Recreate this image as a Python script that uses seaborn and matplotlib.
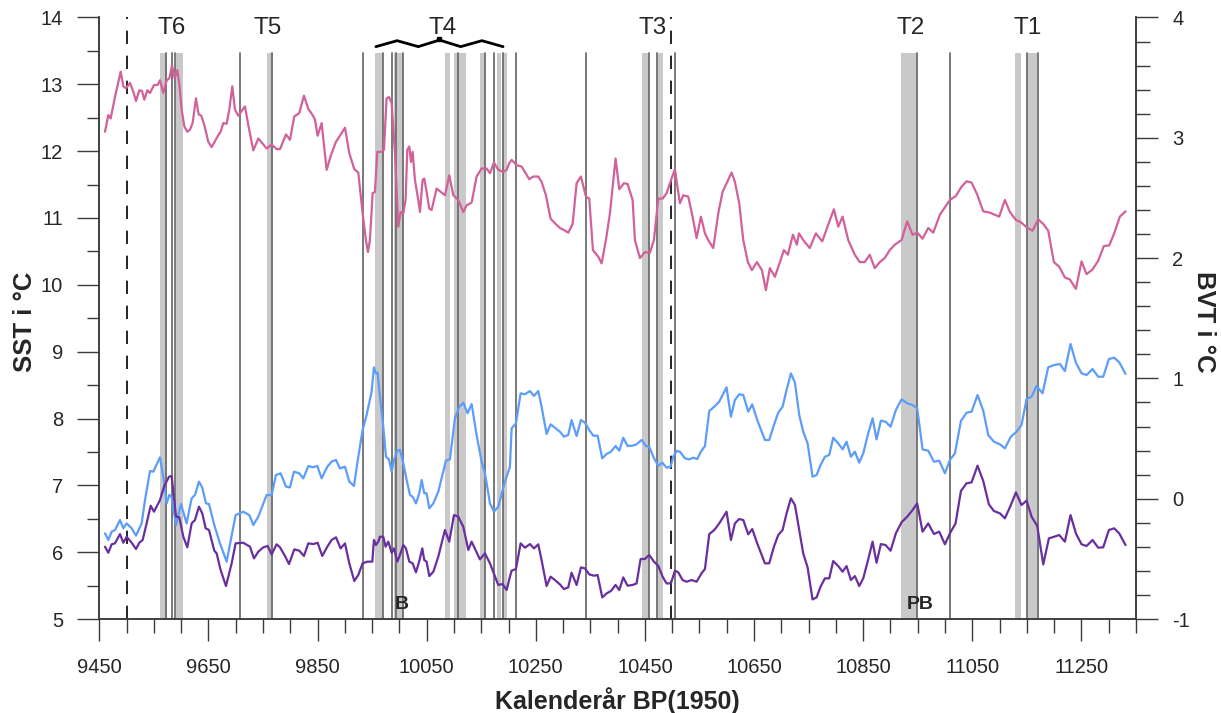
import numpy as np
import pandas as pd
import matplotlib
matplotlib.use("Agg")
import matplotlib.pyplot as plt
import seaborn as sns
from matplotlib.ticker import MultipleLocator, FixedLocator

# ---------------- data ----------------
sst_year = [9460.5, 9466.6, 9470.9, 9478.8, 9489.2, 9494.1, 9499, 9506.3, 9512.4, 9517.3, 9523.4, 9528.3,
            9532.6, 9538.1, 9543, 9550.3, 9557, 9561.3, 9567.4, 9573.5, 9578.4, 9583.3, 9588.1, 9593,
            9596.7, 9601, 9605.9, 9611.4, 9616.2, 9621.1, 9627.2, 9632.1, 9637, 9643.1, 9649.8, 9655.9,
            9662.1, 9668.2, 9672.4, 9677.3, 9683.4, 9688.3, 9693.8, 9698.7, 9704.8, 9710.9, 9717, 9723.1,
            9732.3, 9741.5, 9747.6, 9756.7, 9765.9, 9775, 9781.2, 9792.2, 9799.5, 9807.4, 9816.6, 9825.1,
            9833.1, 9841, 9845.3, 9850.2, 9857.5, 9866.7, 9874.6, 9883.8, 9900.3, 9908.2, 9917.4, 9924.7,
            9932.6, 9938.7, 9942.4, 9946, 9951, 9955.2, 9959.5, 9967.5, 9971.7, 9976.6, 9980.9, 9985.8,
            9991.9, 9998, 10002.3, 10007.2, 10011.4, 10014.5, 10018.2, 10021.2, 10024.3, 10028.5, 10034.6,
            10037.7, 10042.6, 10045.6, 10049.9, 10054.8, 10059.1, 10068.2, 10083.5, 10091.4, 10098.8,
            10107.9, 10117.1, 10123.2, 10132.4, 10141.5, 10150.7, 10159.9, 10166, 10173.3, 10181.2,
            10190.4, 10196.5, 10201.4, 10205.7, 10214.8, 10224, 10238, 10245.4, 10254.5, 10260.6, 10268.6,
            10277.1, 10285.1, 10294.2, 10301.6, 10309.5, 10317.5, 10324.8, 10332.7, 10341.9, 10348,
            10354.7, 10364.5, 10370.6, 10378.5, 10385.9, 10396.2, 10403, 10411.5, 10418.2, 10427.4,
            10431.7, 10440.8, 10450, 10459.2, 10466.5, 10474.4, 10482.4, 10489.7, 10495.8, 10504.9,
            10514.1, 10520.2, 10529.4, 10537.3, 10544.7, 10552.6, 10560, 10566, 10575.2, 10584.4, 10592.3,
            10599.6, 10608.8, 10614.9, 10622.8, 10630.2, 10638.7, 10646, 10655.2, 10664.4, 10671.7, 10679,
            10688.2, 10697.4, 10704.7, 10712, 10721.2, 10728.5, 10732.2, 10740.1, 10752, 10763.3, 10775,
            10789, 10796.3, 10804.3, 10812.2, 10822.6, 10834.6, 10843.7, 10852.9, 10862, 10871.2, 10880.4,
            10889.5, 10898.7, 10907.9, 10920.3, 10930.7, 10940.5, 10949.1, 10958.8, 10969.2, 10978.4,
            10990.6, 11008.9, 11019.9, 11030.3, 11039.5, 11048.6, 11059, 11070, 11082.2, 11099.3, 11109.7,
            11118.9, 11129.9, 11138.4, 11151.2, 11160.4, 11170.8, 11180, 11189.1, 11199.5, 11209.3,
            11219.7, 11228.8, 11239.8, 11250.2, 11259.4, 11270.3, 11280.7, 11291.1, 11300.9, 11310,
            11320.4, 11330.8]
sst_val = [12.29, 12.54, 12.49, 12.81, 13.19, 12.97, 12.94, 13.02, 12.89, 12.75, 12.91, 12.90,
           12.77, 12.91, 12.87, 12.99, 12.99, 13.06, 12.87, 13.06, 13.09, 13.28, 13.09, 13.21,
           13.01, 12.62, 12.37, 12.29, 12.32, 12.42, 12.79, 12.55, 12.53, 12.37, 12.14, 12.06,
           12.15, 12.24, 12.29, 12.42, 12.41, 12.62, 12.97, 12.62, 12.53, 12.60, 12.67, 12.39,
           12.01, 12.19, 12.13, 12.04, 12.10, 12.03, 12.03, 12.25, 12.17, 12.52, 12.57, 12.83,
           12.63, 12.54, 12.47, 12.23, 12.42, 11.72, 11.94, 12.14, 12.35, 11.97, 11.73, 11.68,
           11.07, 10.67, 10.49, 10.67, 11.37, 11.39, 11.99, 11.99, 12.02, 12.79, 12.81, 12.72,
           11.97, 10.87, 11.09, 11.07, 11.27, 12.02, 12.07, 11.84, 11.99, 11.57, 11.27,
           11.09, 11.57, 11.59, 11.39, 11.14, 11.12, 11.44, 11.34, 11.64, 11.34,
           11.27, 11.09, 11.19, 11.23, 11.62, 11.74, 11.74, 11.67, 11.83, 11.72,
           11.69, 11.72, 11.82, 11.87, 11.79, 11.77, 11.58, 11.62, 11.62, 11.54, 11.34,
           10.99, 10.92, 10.85, 10.82, 10.78, 10.91, 11.52, 11.62, 11.32, 11.29,
           10.52, 10.42, 10.32, 10.67, 11.07, 11.89, 11.43, 11.52, 11.51, 11.27,
           10.67, 10.40, 10.49, 10.48, 10.67, 11.29, 11.29, 11.37, 11.52, 11.73,
           11.22, 11.34, 11.32, 11.02, 10.70, 11.02, 10.77, 10.67, 10.55, 11.07, 11.39,
           11.52, 11.68, 11.54, 11.22, 10.67, 10.34, 10.22, 10.34, 10.22, 9.92, 10.25,
           10.12, 10.34, 10.52, 10.45, 10.75, 10.60, 10.77, 10.67, 10.55, 10.77, 10.65,
           10.97, 11.13, 10.87, 11.02, 10.67, 10.45, 10.34, 10.34, 10.45, 10.25, 10.34,
           10.40, 10.52, 10.60, 10.67, 10.95, 10.75, 10.78, 10.69, 10.85, 10.78,
           11.05, 11.27, 11.33, 11.47, 11.55, 11.53, 11.35, 11.10, 11.08, 11.02, 11.27,
           11.09, 10.97, 10.94, 10.85, 10.81, 10.98, 10.91, 10.81, 10.34, 10.27,
           10.11, 10.08, 9.94, 10.35, 10.16, 10.23, 10.36, 10.58, 10.59, 10.77,
           11.02, 11.10]

blue_year = [9460.5, 9466.6, 9472.7, 9478.8, 9488, 9494.1, 9500.2, 9509.4, 9517.3, 9527.7, 9533.8, 9543,
             9549.1, 9561.3, 9567.4, 9573.5, 9578.4, 9582.6, 9590.6, 9599.7, 9610.1, 9619.3, 9625.4,
             9632.7, 9638.8, 9645.6, 9651.1, 9660.8, 9671.2, 9683.4, 9699.9, 9714, 9725, 9732.3, 9741.5,
             9756.7, 9765.9, 9773.8, 9782.4, 9792.2, 9799.5, 9806.8, 9816.6, 9823.9, 9833.1, 9841, 9849.6,
             9857.5, 9867.9, 9875.8, 9883.8, 9891.1, 9900.3, 9908.2, 9916.8, 9924.7, 9932.6, 9940, 9949.1,
             9953.4, 9957.1, 9960.1, 9964.4, 9970.5, 9975.4, 9980.9, 9985.8, 9990.1, 9996.2, 10001,
             10007.2, 10013.3, 10019.4, 10024.3, 10030.4, 10036.5, 10040.8, 10045.6, 10049.9, 10054.8,
             10062.2, 10071.3, 10085.3, 10092.6, 10101.8, 10109.8, 10117.1, 10125, 10132.4, 10141.5,
             10150.7, 10156.8, 10166, 10173.3, 10181.2, 10193.5, 10202.6, 10205.7, 10213.6, 10222.2,
             10230.1, 10239.3, 10246.6, 10254.5, 10260.6, 10269.8, 10277.1, 10285.1, 10294.2, 10301.6,
             10309.5, 10315.6, 10324.8, 10332.7, 10340.1, 10348, 10355.3, 10363.3, 10371.8, 10379.8,
             10387.7, 10396.2, 10403, 10410.3, 10418.2, 10427.4, 10434.7, 10443.9, 10451.8, 10457.9,
             10465.3, 10474.4, 10481.8, 10489.7, 10497, 10501.9, 10508, 10514.1, 10523.3, 10531.2,
             10538.6, 10545.9, 10552.6, 10560, 10567.9, 10577.1, 10586.2, 10592.3, 10599.6, 10607.6,
             10614.9, 10622.8, 10630.2, 10639.3, 10646.7, 10655.8, 10669.9, 10677.8, 10686.4, 10694.3,
             10702.3, 10709.6, 10717.5, 10724.9, 10732.8, 10740.1, 10748.1, 10757.2, 10764.6, 10771.9,
             10779.8, 10787.8, 10795.1, 10804.3, 10812.2, 10819.5, 10827.5, 10834.8, 10842.7, 10850.1,
             10859.2, 10867.2, 10874.5, 10882.4, 10891, 10900.2, 10909.9, 10920.3, 10930.7, 10940.5,
             10949, 10958.8, 10969.2, 10979.6, 10989.4, 10999.8, 11008.9, 11018.1, 11029.1, 11039.5,
             11048.6, 11059.6, 11070, 11079.2, 11089.5, 11100.7, 11109.7, 11120.7, 11131.1, 11140.2,
             11149.4, 11158.6, 11167.7, 11178.7, 11189.1, 11199.5, 11210.5, 11219.6, 11230, 11239.8,
             11250.2, 11259.4, 11270.3, 11280.7, 11289.9, 11300.3, 11310, 11319.2, 11330.8]
blue_val = [-0.288, -0.343, -0.274, -0.260, -0.177, -0.246, -0.205, -0.246, -0.307, -0.205, -0.011, 0.230,
            0.225, 0.344, 0.183, -0.039, 0.031, 0.017, -0.219, -0.044, -0.205, 0.003, 0.031,
            0.142, 0.092, -0.039, -0.044, -0.219, -0.371, -0.523, -0.136, -0.108, -0.136, -0.219, -0.149,
            0.031, 0.031, 0.197, 0.211, 0.100, 0.094, 0.225, 0.211, 0.169, 0.272, 0.261, 0.272,
            0.169, 0.266, 0.308, 0.322, 0.252, 0.266, 0.142, 0.106, 0.349, 0.571, 0.696, 0.890,
            1.092, 1.042, 1.048, 0.848, 0.599, 0.349, 0.327, 0.225, 0.322, 0.399, 0.405,
            0.294, 0.155, 0.031, 0.017, -0.039, 0.045, 0.155, 0.045, 0.045, -0.080,
            -0.039, 0.058, 0.316, 0.327, 0.668, 0.765, 0.798, 0.710, 0.787, 0.530,
            0.308, 0.211, -0.039, -0.108, -0.066, 0.142, 0.266, 0.585, 0.626, 0.876,
            0.868, 0.895, 0.854, 0.895, 0.765, 0.538, 0.618, 0.590, 0.557, 0.516,
            0.530, 0.654, 0.521, 0.654, 0.632, 0.571, 0.524, 0.524, 0.336, 0.372,
            0.391, 0.438, 0.399, 0.507, 0.438, 0.441, 0.452, 0.488, 0.438, 0.432,
            0.349, 0.272, 0.300, 0.258, 0.266, 0.349, 0.397, 0.391, 0.336, 0.327,
            0.341, 0.330, 0.391, 0.438, 0.729, 0.765, 0.807, 0.862, 0.926, 0.682,
            0.820, 0.868, 0.862, 0.724, 0.784, 0.654, 0.488, 0.488, 0.613, 0.715,
            0.765, 0.904, 1.042, 0.965, 0.696, 0.557, 0.460, 0.183, 0.197, 0.280,
            0.349, 0.363, 0.507, 0.460, 0.410, 0.474, 0.349, 0.391, 0.300, 0.377,
            0.543, 0.668, 0.493, 0.649, 0.640, 0.599, 0.737, 0.826, 0.793, 0.779,
            0.751, 0.410, 0.399, 0.308, 0.316, 0.211, 0.322, 0.377, 0.646, 0.715,
            0.723, 0.862, 0.732, 0.529, 0.474, 0.452, 0.419, 0.516, 0.557, 0.613,
            0.829, 0.848, 0.937, 0.876, 1.092, 1.111, 1.120, 1.061, 1.286, 1.131,
            1.042, 1.028, 1.078, 1.014, 1.014, 1.161, 1.172, 1.134, 1.037]

purple_year = [9460.5, 9466.6, 9472.7, 9478.8, 9488, 9494.1, 9500.2, 9509.4, 9517.3, 9523.4, 9529.5, 9536.8,
               9544.2, 9550.3, 9561.3, 9568.6, 9577.8, 9582.6, 9590.6, 9596.7, 9604, 9611.4, 9619.3,
               9625.4, 9632.7, 9638.8, 9645, 9651.1, 9660.8, 9665.1, 9672.4, 9682.2, 9692.6, 9699.9,
               9714, 9726.2, 9733.5, 9741.5, 9750.6, 9758.6, 9765.9, 9775, 9781.2, 9790.3, 9797.7,
               9807.4, 9816.6, 9825.1, 9833.1, 9842.2, 9850.2, 9858.7, 9867.9, 9875.8, 9883.8, 9892.3,
               9900.3, 9908.2, 9917.4, 9924.7, 9932.6, 9941.2, 9950.4, 9953.4, 9957.1, 9961.3, 9964.4,
               9970.5, 9974.8, 9979.7, 9985.8, 9990.1, 9996.2, 10001, 10007.2, 10012, 10018.2, 10024.3,
               10030.4, 10036.5, 10042, 10045.6, 10049.9, 10054.8, 10062.2, 10071.3, 10083.5, 10091.4,
               10100, 10107.9, 10117.1, 10126.3, 10132.4, 10147.6, 10156.8, 10166, 10181.2, 10189.2,
               10196.5, 10202.6, 10205.7, 10213.6, 10222.2, 10230.1, 10239.3, 10246.6, 10254.5, 10260.6,
               10269.8, 10277.1, 10285.1, 10294.2, 10301.6, 10309.5, 10315.6, 10324.8, 10332.7, 10340.1,
               10348, 10356.5, 10363.3, 10371.8, 10379.8, 10387.7, 10396.2, 10403, 10410.3, 10418.2,
               10427.4, 10434.7, 10442.1, 10450, 10457.9, 10466.5, 10474.4, 10482.4, 10489.7, 10497.6,
               10505, 10511.1, 10519, 10526.3, 10535.5, 10544.7, 10553.8, 10560, 10567.9, 10577.1,
               10586.2, 10599.6, 10607.6, 10614.9, 10622.8, 10630.2, 10639.3, 10646.7, 10655.8, 10669.9,
               10677.8, 10686.4, 10694.3, 10702.3, 10709.6, 10717.5, 10724.9, 10732.8, 10740.1, 10748.1,
               10757.2, 10764.6, 10771.9, 10779.8, 10787.8, 10795.1, 10804.3, 10812.2, 10819.5, 10827.5,
               10834.8, 10842.7, 10850.1, 10859.2, 10867.2, 10874.5, 10882.4, 10891, 10900.2, 10909.9,
               10920.3, 10930.7, 10940.5, 10949, 10958.8, 10969.2, 10979.6, 10989.4, 10999.8, 11008.9,
               11019.3, 11029.1, 11039.5, 11048.6, 11059.6, 11070, 11080.4, 11089.5, 11100.7, 11109.7,
               11120.7, 11129.9, 11140.2, 11149.4, 11158.6, 11169, 11180, 11190.3, 11199.5, 11209.3,
               11219.6, 11230, 11239.8, 11250.2, 11259.4, 11270.3, 11280.7, 11289.9, 11300.3, 11310,
               11319.2, 11330.8]
purple_val = [-0.399, -0.449, -0.379, -0.371, -0.294, -0.366, -0.316, -0.366, -0.418, -0.366, -0.343, -0.205,
              -0.058, -0.108, -0.011, 0.100, 0.183, 0.189, -0.149, -0.155, -0.316, -0.404, -0.205,
              -0.177, -0.066, -0.122, -0.246, -0.260, -0.432, -0.454, -0.593, -0.726, -0.537, -0.371,
              -0.366, -0.399, -0.496, -0.440, -0.404, -0.393, -0.463, -0.379, -0.404, -0.476, -0.543,
              -0.421, -0.432, -0.476, -0.371, -0.377, -0.366, -0.476, -0.399, -0.343, -0.321, -0.413,
              -0.371, -0.537, -0.684, -0.634, -0.537, -0.523, -0.523, -0.343, -0.385, -0.357, -0.316,
              -0.316, -0.399, -0.357, -0.449, -0.413, -0.523, -0.468, -0.385, -0.413, -0.523, -0.537,
              -0.612, -0.518, -0.413, -0.510, -0.523, -0.643, -0.607, -0.482, -0.260, -0.357,
              -0.136, -0.149, -0.233, -0.426, -0.357, -0.504, -0.454, -0.537, -0.717, -0.709,
              -0.759, -0.648, -0.598, -0.584, -0.371, -0.407, -0.377, -0.413, -0.379, -0.510,
              -0.726, -0.648, -0.676, -0.712, -0.751, -0.737, -0.615, -0.717, -0.571, -0.579,
              -0.629, -0.640, -0.634, -0.820, -0.787, -0.767, -0.717, -0.759, -0.654, -0.723,
              -0.717, -0.704, -0.501, -0.501, -0.468, -0.523, -0.557, -0.648, -0.704, -0.704,
              -0.598, -0.612, -0.676, -0.690, -0.676, -0.690, -0.620, -0.584, -0.294, -0.260,
              -0.205, -0.108, -0.343, -0.205, -0.169, -0.177, -0.296, -0.252, -0.371, -0.537,
              -0.537, -0.399, -0.302, -0.260, -0.122, 0.003, -0.052, -0.260, -0.454, -0.571,
              -0.837, -0.820, -0.731, -0.662, -0.662, -0.518, -0.560, -0.607, -0.560, -0.676,
              -0.643, -0.726, -0.662, -0.504, -0.357, -0.532, -0.377, -0.385, -0.432, -0.288,
              -0.196, -0.149, -0.094, -0.039, -0.274, -0.205, -0.293, -0.274, -0.379, -0.288,
              -0.205, 0.064, 0.128, 0.136, 0.275, 0.147, -0.047, -0.102, -0.122, -0.163,
              -0.052, 0.053, -0.052, -0.016, -0.149, -0.227, -0.546, -0.330, -0.316, -0.302,
              -0.357, -0.136, -0.288, -0.379, -0.393, -0.343, -0.407, -0.404, -0.260, -0.246,
              -0.288, -0.385]

# event shading (start, end) and event lines, in years BP
band_start = [9561, 9591, 9757, 9955, 9991, 10083.5, 10100.5, 10147.6, 10178, 10190, 10445, 10473, 10920, 11128, 11151]
band_end = [9573.5, 9603, 9768, 9970, 10007, 10093, 10121.4, 10157, 10187, 10198, 10457, 10484, 10949, 11140, 11168]
event_lines = [9573, 9583, 9589, 9707, 9766.5, 9933, 9970, 9986, 9993, 10007, 10108, 10157, 10173, 10189,
               10214, 10342, 10457, 10473, 10505, 10949, 11009.5, 11149.5, 11170]
dashed_lines = [9500, 10497]
t_labels = ["T6", "T5", "T4", "T3", "T2", "T1"]
t_pos = [9583, 9759, 10080, 10465, 10937, 11151]
bold_labels = ["B", "PB"]
bold_pos = [10004, 10954]
t4_span = (9957, 10190)

x_ticks = [9450, 9650, 9850, 10050, 10250, 10450, 10650, 10850, 11050, 11250]
sst_ticks = list(range(5, 15))
bvt_ticks = list(range(-1, 5))

# ---------------- style ----------------
sns.set_style("white")
plt.rcParams["font.family"] = ["Liberation Sans", "DejaVu Sans"]
plt.rcParams["axes.unicode_minus"] = False

PINK = "#d2609a"
BLUE = "#5c9dfa"
PURPLE = "#6a2f9e"
BAND = "#c9c9c9"
EVLINE = "#6e6e6e"
AXC = "#3a3a3a"

fig = plt.figure(figsize=(12.21, 7.13), dpi=100)
ax = fig.add_axes([0.0813, 0.1318, 0.8491, 0.8437])
ax2 = ax.twinx()

band_top = 0.941
for s, e in zip(band_start, band_end):
    ax.axvspan(s, e, ymin=0, ymax=band_top, color=BAND, lw=0, zorder=0)
for xl in event_lines:
    ax.axvline(xl, ymin=0, ymax=band_top, color=EVLINE, lw=1.3, zorder=1)
for xl in dashed_lines:
    ax.axvline(xl, ymin=0, ymax=1, color="black", lw=1.2, ls=(0, (8, 7)), zorder=1)

df_sst = pd.DataFrame({"year": sst_year, "val": sst_val})
df_blue = pd.DataFrame({"year": blue_year, "val": blue_val})
df_purple = pd.DataFrame({"year": purple_year, "val": purple_val})

sns.lineplot(data=df_sst, x="year", y="val", ax=ax, color=PINK, lw=1.6, estimator=None, zorder=3)
sns.lineplot(data=df_blue, x="year", y="val", ax=ax2, color=BLUE, lw=1.6, estimator=None, zorder=3)
sns.lineplot(data=df_purple, x="year", y="val", ax=ax2, color=PURPLE, lw=1.6, estimator=None, zorder=3)

ax.set_xlim(9450, 11350)
ax.set_ylim(5, 14)
ax2.set_ylim(-1, 4)

# ticks
ax.xaxis.set_major_locator(FixedLocator(x_ticks))
ax.xaxis.set_minor_locator(MultipleLocator(50))
ax.yaxis.set_major_locator(FixedLocator(sst_ticks))
ax.yaxis.set_minor_locator(MultipleLocator(0.5))
ax2.yaxis.set_major_locator(FixedLocator(bvt_ticks))
ax2.yaxis.set_minor_locator(MultipleLocator(0.2))

ax.tick_params(axis="x", which="major", bottom=True, top=False, direction="out", length=16, width=1,
               color=AXC, labelsize=14.5, pad=12)
ax.tick_params(axis="x", which="minor", bottom=True, direction="out", length=10, width=1, color=AXC)
ax.tick_params(axis="y", which="major", left=True, right=False, direction="out", length=16, width=1,
               color=AXC, labelsize=14.5, pad=10)
ax.tick_params(axis="y", which="minor", left=True, right=False, direction="out", length=9, width=1, color=AXC)
ax2.tick_params(axis="y", which="major", right=True, left=False, direction="out", length=16, width=1,
                color=AXC, labelsize=14.5, pad=10)
ax2.tick_params(axis="y", which="minor", right=True, left=False, direction="out", length=10, width=1, color=AXC)

for a in (ax, ax2):
    a.spines["top"].set_visible(False)
    for sp in ("left", "right", "bottom"):
        a.spines[sp].set_color(AXC)
        a.spines[sp].set_linewidth(1.1)
    a.grid(False)

ax.set_xlabel("Kalenderår BP(1950)", fontsize=18, fontweight="bold")
ax.xaxis.set_label_coords(0.5, -0.135)
ax.xaxis.label.set_va("center")
ax.set_ylabel("SST i °C", fontsize=18.5, fontweight="bold")
ax.yaxis.set_label_coords(-0.072, 0.494)
ax.yaxis.label.set_va("center")
ax2.set_ylabel("BVT i °C", fontsize=18.5, fontweight="bold", rotation=270)
ax2.yaxis.set_label_coords(1.066, 0.494)
ax2.yaxis.label.set_va("center")

trans = ax.get_xaxis_transform()
for lab, xp in zip(t_labels, t_pos):
    ax.text(xp, 0.983, lab, transform=trans, ha="center", va="center", fontsize=17.5, zorder=5)
for lab, xp in zip(bold_labels, bold_pos):
    ax.text(xp, 0.024, lab, transform=trans, ha="center", va="center", fontsize=14, fontweight="bold", zorder=5)

# brace over T4 group
bx = np.linspace(t4_span[0], t4_span[1], 7)
by = [0.9515, 0.9614, 0.9515, 0.9625, 0.9515, 0.9614, 0.9515]
ax.plot(bx, by, transform=trans, color="black", lw=2, clip_on=False, zorder=5)
ax.plot([bx[3]], [0.9635], transform=trans, marker="s", ms=3.5, color="black", clip_on=False, zorder=5)

fig.savefig("out.png", dpi=100)
